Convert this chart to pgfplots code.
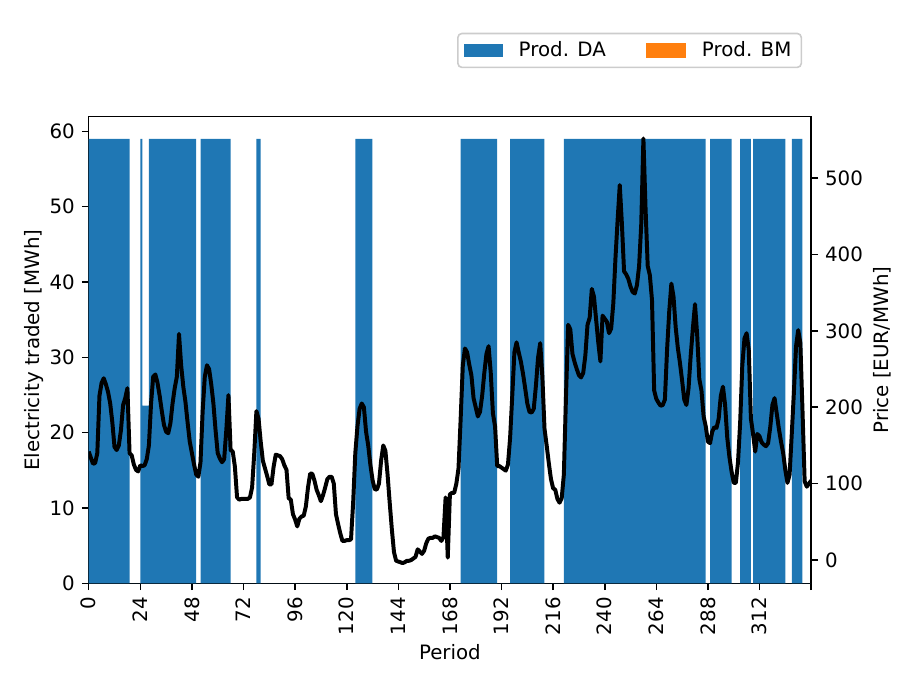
\documentclass[border=0pt]{standalone}
\usepackage{fontspec}
\setmainfont{DejaVu Sans}
\usepackage{pgfplots}
\usepackage{pgfplotstable}
\pgfplotsset{compat=1.18}
\definecolor{tabblue}{HTML}{1F77B4}
\definecolor{taborange}{HTML}{FF7F0E}
\pgfplotstableread{
x da price
0 59 142
1 59 134
2 59 126
3 59 127
4 59 140
5 59 215
6 59 232
7 59 238
8 59 230
9 59 220
10 59 205
11 59 180
12 59 148
13 59 144
14 59 150
15 59 170
16 59 203
17 59 212
18 59 225
19 0 140
20 0 137
21 0 125
22 0 118
23 0 116
24 59 124
25 23.6 123
26 23.6 124
27 23.6 132
28 59 150
29 59 205
30 59 240
31 59 243
32 59 232
33 59 215
34 59 195
35 59 177
36 59 168
37 59 166
38 59 179
39 59 205
40 59 225
41 59 240
42 59 296
43 59 255
44 59 227
45 59 207
46 59 180
47 59 155
48 59 140
49 59 125
50 0 112
51 0 109
52 59 128
53 59 195
54 59 240
55 59 255
56 59 250
57 59 230
58 59 205
59 59 170
60 59 140
61 59 133
62 59 128
63 59 132
64 59 170
65 59 216
66 0 144
67 0 142
68 0 122
69 0 82
70 0 79
71 0 80
72 0 80
73 0 80
74 0 80
75 0 82
76 0 95
77 0 140
78 59 195
79 59 185
80 0 155
81 0 130
82 0 120
83 0 110
84 0 99
85 0 99
86 0 122
87 0 138
88 0 137
89 0 136
90 0 132
91 0 124
92 0 118
93 0 81
94 0 79
95 0 60
96 0 53
97 0 44
98 0 54
99 0 57
100 0 58
101 0 70
102 0 95
103 0 113
104 0 113
105 0 104
106 0 92
107 0 85
108 0 77
109 0 85
110 0 95
111 0 106
112 0 109
113 0 109
114 0 100
115 0 60
116 0 47
117 0 35
118 0 25
119 0 25
120 0 26
121 0 26
122 0 27
123 0 75
124 59 140
125 59 175
126 59 198
127 59 205
128 59 200
129 59 168
130 59 150
131 59 125
132 0 105
133 0 93
134 0 92
135 0 100
136 0 130
137 0 150
138 0 143
139 0 112
140 0 75
141 0 40
142 0 10
143 0 -1
144 0 -2
145 0 -3
146 0 -4
147 0 -3
148 0 -1
149 0 -1
150 0 0
151 0 2
152 0 4
153 0 14
154 0 11
155 0 8
156 0 12
157 0 22
158 0 28
159 0 29
160 0 29
161 0 31
162 0 30
163 0 29
164 0 25
165 0 30
166 0 82
167 0 3
168 0 86
169 0 88
170 0 88
171 0 100
172 0 120
173 59 185
174 59 255
175 59 277
176 59 272
177 59 256
178 59 242
179 59 212
180 59 200
181 59 188
182 59 194
183 59 215
184 59 245
185 59 270
186 59 280
187 59 245
188 59 192
189 59 175
190 0 123
191 0 123
192 0 121
193 0 119
194 0 117
195 0 125
196 59 160
197 59 215
198 59 272
199 59 285
200 59 272
201 59 260
202 59 244
203 59 225
204 59 205
205 59 194
206 59 193
207 59 198
208 59 228
209 59 265
210 59 284
211 59 240
212 0 172
213 0 150
214 0 127
215 0 106
216 0 94
217 0 92
218 0 80
219 0 75
220 0 81
221 59 112
222 59 215
223 59 308
224 59 302
225 59 270
226 59 259
227 59 250
228 59 242
229 59 239
230 59 245
231 59 268
232 59 308
233 59 317
234 59 355
235 59 345
236 59 315
237 59 285
238 59 260
239 59 320
240 59 316
241 59 312
242 59 297
243 59 303
244 59 336
245 59 395
246 59 445
247 59 491
248 59 440
249 59 378
250 59 374
251 59 368
252 59 358
253 59 351
254 59 349
255 59 360
256 59 385
257 59 440
258 59 552
259 59 460
260 59 385
261 59 373
262 59 340
263 59 222
264 59 211
265 59 206
266 59 202
267 59 203
268 59 210
269 59 275
270 59 325
271 59 362
272 59 345
273 59 305
274 59 278
275 59 258
276 59 235
277 59 210
278 59 203
279 59 225
280 59 268
281 59 303
282 59 335
283 59 295
284 59 237
285 59 222
286 59 188
287 0 175
288 0 155
289 59 153
290 59 168
291 59 174
292 59 173
293 59 185
294 59 215
295 59 227
296 59 203
297 59 160
298 59 135
299 0 116
300 0 101
301 0 101
302 0 128
303 59 180
304 59 255
305 59 290
306 59 297
307 59 275
308 0 185
309 59 165
310 59 142
311 59 165
312 59 162
313 59 154
314 59 151
315 59 149
316 59 153
317 59 174
318 59 203
319 59 212
320 59 192
321 59 172
322 59 155
323 59 140
324 0 118
325 0 101
326 0 112
327 59 165
328 59 220
329 59 280
330 59 301
331 59 284
332 0 195
333 0 103
334 0 96
335 0 100
336 0 104
}\datatable

\pgfplotsset{
  mplbase/.style={
    at={(44.77pt,51.2pt)}, anchor=south west,
    width=364.6pt, height=235.5pt, scale only axis,
    xmin=0, xmax=336,
    tick align=outside,
    major tick length=3.5pt,
    every tick/.style={black, line width=0.8pt},
    axis line style={line width=0.8pt},
    /pgf/number format/assume math mode=true,
    tick label style={font=\fontsize{10}{12}\selectfont},
    label style={font=\fontsize{10}{12}\selectfont},
  }
}

\begin{document}
\begin{tikzpicture}
\path (0,0) rectangle (460.8pt,345.6pt);
\begin{axis}[
  mplbase,
  ymin=0, ymax=61.95,
  xtick={0,24,...,312},
  extra x ticks={336}, extra x tick labels={},
  ytick={0,10,...,60},
  xtick pos=left, ytick pos=left,
  x tick label style={rotate=90, anchor=east},
  xlabel={Period},
  xlabel style={yshift=9pt},
  ylabel={Electricity traded [MWh]},
  ylabel shift={-4pt},
  legend columns=2,
  legend style={at={(0.9875,1.104)}, anchor=south east,
    draw=black!20, rounded corners=2pt, line width=0.8pt,
    font=\fontsize{10}{12}\selectfont,
    inner xsep=3pt, inner ysep=2pt,
    /tikz/every odd column/.append style={column sep=6pt},
    /tikz/every even column/.append style={column sep=18pt}},
]
\addplot[ybar, bar width=0.97, bar shift=0pt, fill=tabblue, draw=none,
  legend image code/.code={\fill[tabblue, sharp corners] (0pt,-3.4pt) rectangle (19.7pt,3.4pt);}]
  table[x expr=\thisrow{x}+0.5, y=da] {\datatable};
\addlegendentry{Prod. DA}
\addlegendimage{legend image code/.code={\fill[taborange, sharp corners] (0pt,-3.4pt) rectangle (19.7pt,3.4pt);}}
\addlegendentry{Prod. BM}
\end{axis}
\begin{axis}[
  mplbase,
  ymin=-30.5, ymax=580.5,
  axis x line=none,
  axis y line*=right,
  ytick={0,100,...,500},
  ylabel={Price [EUR/MWh]},
  ylabel shift={-1.5pt},
]
\addplot[black, line width=2pt, no marks, line join=round] table[x=x, y=price] {\datatable};
\end{axis}
\end{tikzpicture}
\end{document}
